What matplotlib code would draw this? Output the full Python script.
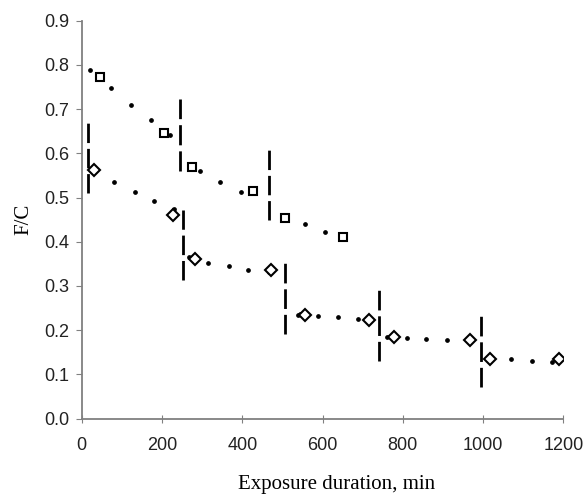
import matplotlib.pyplot as plt

# upper series (squares) and its fitted dots
sq_x = [45, 205, 274, 427, 506, 652]
sq_y = [0.773, 0.645, 0.568, 0.515, 0.453, 0.410]
up_fit_x = [21, 73, 122, 172, 220, 295, 345, 396, 556, 606]
up_fit_y = [0.789, 0.748, 0.710, 0.675, 0.642, 0.560, 0.536, 0.513, 0.440, 0.423]

# lower series (diamonds) and its fitted dots
dm_x = [31, 228, 282, 471, 556, 716, 778, 967, 1017, 1190]
dm_y = [0.562, 0.460, 0.360, 0.336, 0.234, 0.224, 0.184, 0.178, 0.135, 0.135]
lo_fit_x = [81, 133, 181, 230, 268, 315, 366, 415, 467, 538, 544, 589, 639, 689,
            761, 810, 859, 911, 959, 1013, 1069, 1121, 1171]
lo_fit_y = [0.536, 0.513, 0.492, 0.473, 0.365, 0.352, 0.345, 0.337, 0.331, 0.234,
            0.236, 0.232, 0.229, 0.225, 0.184, 0.183, 0.180, 0.178, 0.178, 0.135,
            0.135, 0.131, 0.128]

# vertical dashed separators: x, y bottom, y top
sep_x = [15, 245, 253, 467, 506, 741, 994]
sep_lo = [0.511, 0.560, 0.313, 0.449, 0.191, 0.131, 0.072]
sep_hi = [0.669, 0.724, 0.472, 0.607, 0.351, 0.291, 0.232]

plt.rcParams['font.family'] = ['Liberation Sans', 'DejaVu Sans']

fig = plt.figure(figsize=(5.85, 4.98), dpi=100)
ax = fig.add_axes([0.1397, 0.1596, 0.8233, 0.7988])

lw = 2.0
for x, lo, hi in zip(sep_x, sep_lo, sep_hi):
    L = (hi - lo) * 442  # length in pixels
    d = L / 3.6
    g = 0.3 * d
    ln, = ax.plot([x, x], [lo, hi], color='black', linewidth=lw, dash_capstyle='butt')
    ln.set_dashes((d * 0.72 / lw, g * 0.72 / lw))

ax.plot(up_fit_x, up_fit_y, 'o', color='black', markersize=2.4, linestyle='none')
ax.plot(lo_fit_x, lo_fit_y, 'o', color='black', markersize=2.4, linestyle='none')
ax.plot(sq_x, sq_y, 's', markerfacecolor='white', markeredgecolor='black',
        markeredgewidth=1.5, markersize=6, linestyle='none')
ax.plot(dm_x, dm_y, 'D', markerfacecolor='white', markeredgecolor='black',
        markeredgewidth=1.5, markersize=5.8, linestyle='none')

ax.set_xlim(0, 1200)
ax.set_ylim(0, 0.9)
ax.set_xticks(range(0, 1201, 200))
ax.set_yticks([i / 10 for i in range(10)])
ax.set_yticklabels([f"{i / 10:.1f}" for i in range(10)])

for side in ['top', 'right']:
    ax.spines[side].set_visible(False)
for side in ['left', 'bottom']:
    ax.spines[side].set_color('#808080')
    ax.spines[side].set_linewidth(1.3)

ax.tick_params(axis='y', direction='out', length=4, color='#808080', labelsize=13,
               labelcolor='#222222', pad=5)
ax.tick_params(axis='x', direction='inout', length=6, color='#808080', labelsize=13,
               labelcolor='#222222', pad=10)

ax.set_xlabel('Exposure duration, min', family=['Liberation Serif'], fontsize=15)
ax.xaxis.set_label_coords(0.53, -0.142)
ax.set_ylabel('F/C', family=['Liberation Serif'], fontsize=15, labelpad=8)

fig.savefig('out.png', dpi=100)
